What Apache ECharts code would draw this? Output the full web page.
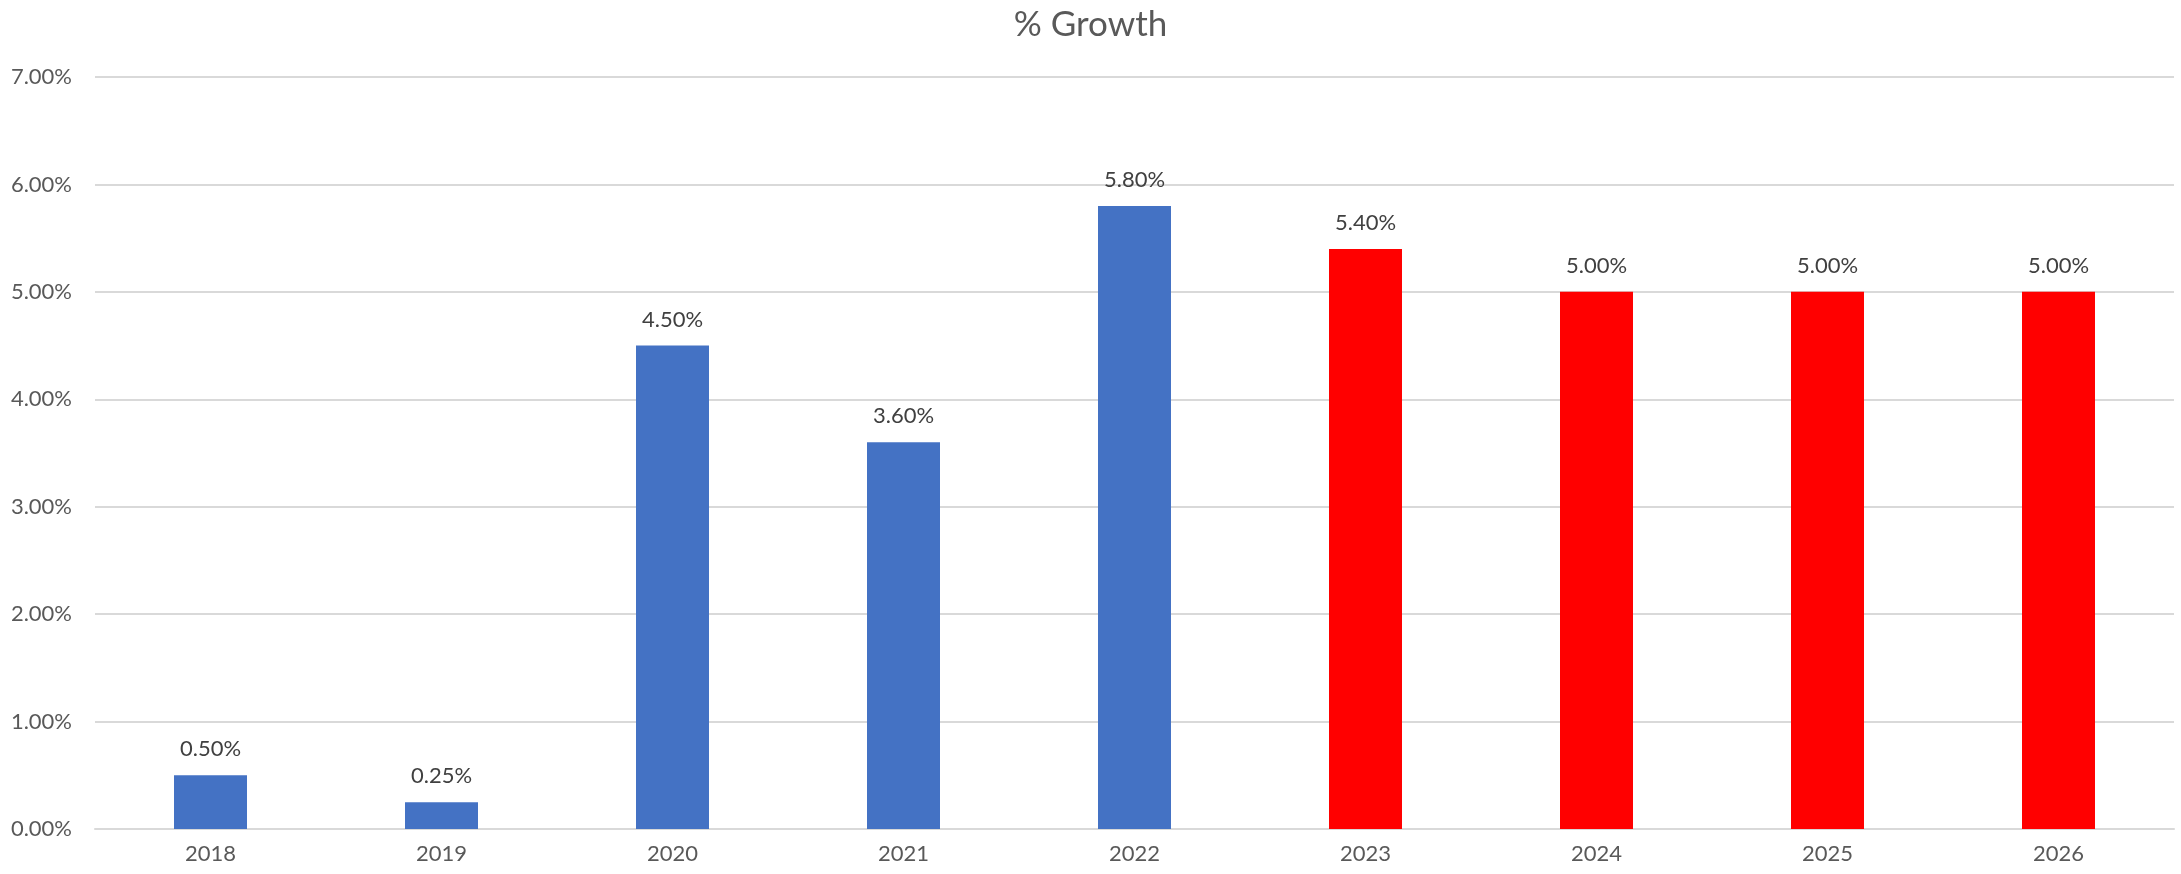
<!DOCTYPE html>
<html>
<head>
<meta charset="utf-8">
<script src="https://cdn.jsdelivr.net/npm/echarts@6/dist/echarts.min.js"></script>
<style>
html,body{margin:0;padding:0;background:#fff;}
#chart{width:2181px;height:874px;}
</style>
</head>
<body>
<div id="chart"></div>
<script>
const years = ['2018','2019','2020','2021','2022','2023','2024','2025','2026'];
const growth = [0.5, 0.25, 4.5, 3.6, 5.8, 5.4, 5.0, 5.0, 5.0];
const forecastFrom = '2023';
const yTicks = [0, 1, 2, 3, 4, 5, 6, 7];

const FONT = 'Lato';
const chart = echarts.init(document.getElementById('chart'));
chart.setOption({
  animation: false,
  backgroundColor: '#ffffff',
  title: {
    text: '% Growth',
    left: 'center',
    top: 2,
    textStyle: { fontFamily: FONT, fontSize: 35, fontWeight: 'normal', color: '#595959' }
  },
  grid: { left: 95, right: 7, top: 77, bottom: 45, containLabel: false },
  xAxis: {
    type: 'category',
    data: years,
    axisLine: { show: true, lineStyle: { color: '#d9d9d9', width: 2 } },
    axisTick: { show: false },
    axisLabel: { fontFamily: FONT, fontSize: 22, color: '#595959', margin: 14 }
  },
  yAxis: {
    type: 'value',
    min: yTicks[0],
    max: yTicks[yTicks.length - 1],
    interval: 1,
    axisLine: { show: false },
    axisTick: { show: false },
    splitLine: { lineStyle: { color: '#d9d9d9', width: 2 } },
    axisLabel: {
      fontFamily: FONT, fontSize: 22, color: '#595959', margin: 23,
      formatter: v => v.toFixed(2) + '%'
    }
  },
  series: [{
    type: 'bar',
    data: growth,
    barWidth: '31.6%',
    itemStyle: {
      color: p => (years[p.dataIndex] >= forecastFrom ? '#ff0000' : '#4472c4')
    },
    label: {
      show: true,
      position: 'top',
      distance: 15,
      fontFamily: FONT,
      fontSize: 22,
      color: '#404040',
      formatter: p => p.value.toFixed(2) + '%'
    }
  }]
});
</script>
</body>
</html>
